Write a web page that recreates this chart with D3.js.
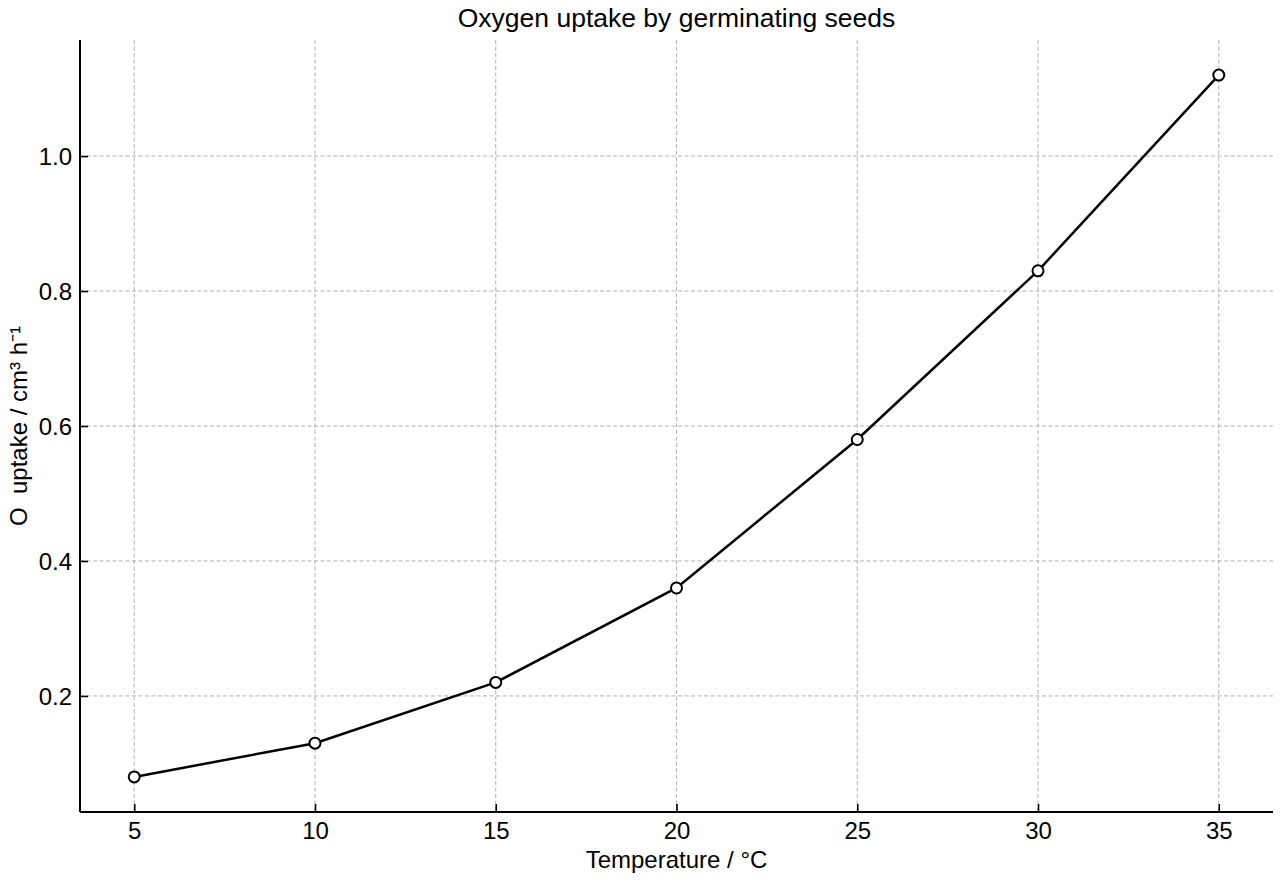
<!DOCTYPE html>
<html>
<head>
<meta charset="utf-8">
<script src="https://cdn.jsdelivr.net/npm/d3@7"></script>
<style>
  body { margin: 0; background: #fff; }
  svg { font-family: "Liberation Sans", Arial, Helvetica, sans-serif; }
</style>
</head>
<body>
<svg width="1280" height="880"></svg>
<script>
const temperatures = [5, 10, 15, 20, 25, 30, 35];
const uptake = [0.08, 0.13, 0.22, 0.36, 0.58, 0.83, 1.12];
const xTicks = [5, 10, 15, 20, 25, 30, 35];
const yTicks = [0.2, 0.4, 0.6, 0.8, 1.0];

const data = temperatures.map((t, i) => ({ t, v: uptake[i] }));

const svg = d3.select("svg");
const plotLeft = 80, plotRight = 1273, plotTop = 40, plotBottom = 812;

const x = d3.scaleLinear().domain([3.5, 36.5]).range([plotLeft, plotRight]);
const y = d3.scaleLinear().domain([0.028, 1.172]).range([plotBottom, plotTop]);

// grid
svg.append("g")
  .selectAll("line")
  .data(xTicks)
  .join("line")
  .attr("x1", (d) => x(d)).attr("x2", (d) => x(d))
  .attr("y1", plotTop).attr("y2", plotBottom)
  .attr("stroke", "#b0b0b0").attr("stroke-width", 1)
  .attr("stroke-dasharray", "4,2.5");

svg.append("g")
  .selectAll("line")
  .data(yTicks)
  .join("line")
  .attr("x1", plotLeft).attr("x2", plotRight)
  .attr("y1", (d) => y(d)).attr("y2", (d) => y(d))
  .attr("stroke", "#b0b0b0").attr("stroke-width", 1)
  .attr("stroke-dasharray", "4,2.5");

// axes with inward ticks
const xAxis = svg.append("g")
  .attr("transform", `translate(0,${plotBottom})`)
  .call(d3.axisBottom(x).tickValues(xTicks).tickSizeInner(-8).tickSizeOuter(0).tickPadding(10).tickFormat(d3.format("d")));
const yAxis = svg.append("g")
  .attr("transform", `translate(${plotLeft},0)`)
  .call(d3.axisLeft(y).tickValues(yTicks).tickSizeInner(-8).tickSizeOuter(0).tickPadding(8).tickFormat(d3.format(".1f")));

[xAxis, yAxis].forEach((g) => {
  g.attr("font-size", null).attr("font-family", null);
  g.select(".domain").attr("stroke", "#000").attr("stroke-width", 2);
  g.selectAll(".tick line").attr("stroke", "#000").attr("stroke-width", 1.6);
  g.selectAll(".tick text").attr("fill", "#000").style("font-size", "24px");
});
xAxis.select(".domain").attr("d", `M${plotLeft},0H${plotRight}`);
yAxis.select(".domain").attr("d", `M0,${plotTop}V${plotBottom}`);
yAxis.selectAll(".tick text").attr("dy", "0.35em");

// line
svg.append("path")
  .datum(data)
  .attr("fill", "none")
  .attr("stroke", "#000")
  .attr("stroke-width", 2.5)
  .attr("d", d3.line().x((d) => x(d.t)).y((d) => y(d.v)));

svg.append("g")
  .selectAll("circle")
  .data(data)
  .join("circle")
  .attr("cx", (d) => x(d.t))
  .attr("cy", (d) => y(d.v))
  .attr("r", 5.5)
  .attr("fill", "#fff")
  .attr("stroke", "#000")
  .attr("stroke-width", 2);

// labels
svg.append("text")
  .attr("x", (plotLeft + plotRight) / 2).attr("y", 27)
  .attr("text-anchor", "middle")
  .style("font-size", "26.5px")
  .text("Oxygen uptake by germinating seeds");

svg.append("text")
  .attr("x", (plotLeft + plotRight) / 2).attr("y", 868)
  .attr("text-anchor", "middle")
  .style("font-size", "24px")
  .text("Temperature / °C");

svg.append("text")
  .attr("transform", `translate(27,${(plotTop + plotBottom) / 2}) rotate(-90)`)
  .attr("text-anchor", "middle")
  .style("font-size", "24px")
  .style("white-space", "pre")
  .text("O  uptake / cm³ h⁻¹");
</script>
</body>
</html>
